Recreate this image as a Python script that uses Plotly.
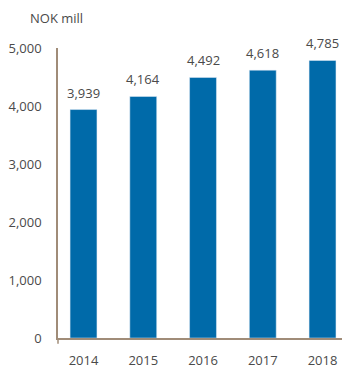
import plotly.graph_objects as go

years = ["2014", "2015", "2016", "2017", "2018"]
values = [3939, 4164, 4492, 4618, 4785]
y_ticks = [0, 1000, 2000, 3000, 4000, 5000]

bar_color = "#006aa9"
axis_color = "#a08c78"
text_color = "#4a4a4a"
font_family = "Open Sans, Noto Sans, sans-serif"

fig = go.Figure(
    go.Bar(
        x=years,
        y=values,
        marker_color=bar_color,
        width=0.45,
        cliponaxis=False,
    )
)

# value labels above each bar (category index used as x position)
value_labels = [
    dict(
        x=i,
        y=v,
        xref="x",
        yref="y",
        text=f"{v:,}",
        showarrow=False,
        yanchor="bottom",
        yshift=6,
        font=dict(size=13, color=text_color),
    )
    for i, v in enumerate(values)
]

fig.update_layout(
    width=342,
    height=369,
    margin=dict(l=58, r=0, t=48, b=27),
    paper_bgcolor="white",
    plot_bgcolor="white",
    showlegend=False,
    font=dict(family=font_family, size=13, color=text_color),
    xaxis=dict(
        type="category",
        range=[-0.427, 4.326],
        showline=True,
        linecolor=axis_color,
        linewidth=1.5,
        showgrid=False,
        ticks="",
        ticklabelstandoff=10,
        tickfont=dict(size=13, color=text_color),
    ),
    yaxis=dict(
        range=[0, 5000],
        tickvals=y_ticks,
        tickformat=",",
        showline=True,
        linecolor=axis_color,
        linewidth=1.5,
        showgrid=False,
        zeroline=False,
        ticks="",
        ticklabelstandoff=12,
        tickfont=dict(size=13, color=text_color),
    ),
    annotations=value_labels
    + [
        dict(
            text="NOK mill",
            xref="paper",
            yref="paper",
            x=-0.007,
            y=1.0,
            yshift=30,
            xanchor="center",
            yanchor="middle",
            showarrow=False,
            font=dict(size=13, color=text_color),
        )
    ],
    shapes=[
        dict(
            type="line",
            xref="paper",
            yref="paper",
            x0=0,
            x1=0,
            y0=0,
            y1=-0.02,
            line=dict(color=axis_color, width=1.5),
        )
    ],
)

fig.write_html("out.html")
